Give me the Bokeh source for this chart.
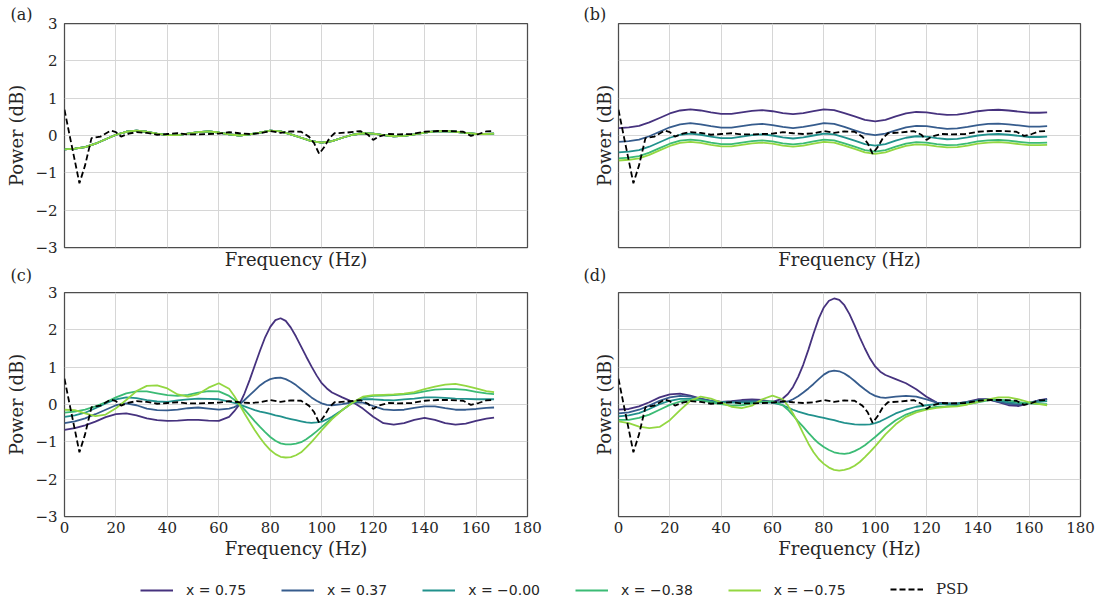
from bokeh.plotting import figure
from bokeh.models import Range1d, FixedTicker, Title, Legend, LegendItem
from bokeh.layouts import column, row
from bokeh.embed import file_html
from bokeh.resources import INLINE

# ---------------- data ----------------
# frequency samples for panels (a) and (b)
freq = [0, 4, 8, 12, 16, 20, 24, 28, 32, 36, 40, 44, 48, 52, 56, 60, 64, 68, 72, 76,
        80, 84, 88, 92, 96, 100, 104, 108, 112, 116, 120, 124, 128, 132, 136, 140,
        144, 148, 152, 156, 160, 164, 167]
# frequency samples for panels (c) and (d) (denser around the resonance)
freq_cd = [0, 4, 8, 12, 16, 20, 24, 28, 32, 36, 40, 44, 48, 52, 56, 60,
           64, 66, 68, 70, 72, 74, 76, 78, 80, 82, 84, 86, 88, 90, 92, 94, 96, 98, 100, 102, 104,
           108, 112, 116, 120, 124, 128, 132, 136, 140, 144, 148, 152, 156, 160, 164, 167]

series_labels = ["x = 0.75", "x = 0.37", "x = \u22120.00", "x = \u22120.38", "x = \u22120.75"]
series_colors = ["#46327e", "#365c8d", "#21918c", "#3bbb75", "#93d741"]

# panel (a): all five curves coincide
a_all = [-0.37, -0.35, -0.31, -0.22, -0.10, 0.02, 0.10, 0.13, 0.10, 0.05, 0.01, 0.01, 0.05,
         0.09, 0.11, 0.08, 0.03, 0.00, 0.03, 0.08, 0.13, 0.11, 0.03, -0.06, -0.15, -0.19,
         -0.15, -0.06, 0.02, 0.06, 0.05, 0.01, -0.02, -0.01, 0.03, 0.08, 0.11, 0.12, 0.10,
         0.07, 0.04, 0.04, 0.05]

# panel (b)
b_075 = [0.20, 0.22, 0.26, 0.35, 0.47, 0.59, 0.67, 0.70, 0.67, 0.62, 0.58, 0.58, 0.62, 0.66,
         0.68, 0.65, 0.60, 0.57, 0.60, 0.65, 0.70, 0.68, 0.60, 0.51, 0.42, 0.38, 0.42, 0.51,
         0.59, 0.63, 0.62, 0.58, 0.55, 0.56, 0.60, 0.65, 0.68, 0.69, 0.67, 0.64, 0.61, 0.61, 0.62]
b_037 = [-0.17, -0.15, -0.11, -0.02, 0.10, 0.22, 0.30, 0.33, 0.30, 0.25, 0.21, 0.21, 0.25, 0.29,
         0.31, 0.28, 0.23, 0.20, 0.23, 0.28, 0.33, 0.31, 0.23, 0.14, 0.05, 0.01, 0.05, 0.14,
         0.22, 0.26, 0.25, 0.21, 0.18, 0.19, 0.23, 0.28, 0.31, 0.32, 0.30, 0.27, 0.24, 0.24, 0.25]
b_000 = [-0.45, -0.43, -0.39, -0.30, -0.18, -0.06, 0.02, 0.05, 0.02, -0.03, -0.07, -0.07, -0.03,
         0.01, 0.03, 0.00, -0.05, -0.08, -0.05, 0.00, 0.05, 0.03, -0.05, -0.14, -0.23, -0.27,
         -0.23, -0.14, -0.06, -0.02, -0.03, -0.07, -0.10, -0.09, -0.05, 0.00, 0.03, 0.04, 0.02,
         -0.01, -0.04, -0.04, -0.03]
b_m038 = [-0.61, -0.59, -0.55, -0.46, -0.34, -0.22, -0.14, -0.11, -0.14, -0.19, -0.23, -0.23,
          -0.19, -0.15, -0.13, -0.16, -0.21, -0.24, -0.21, -0.16, -0.11, -0.13, -0.21, -0.30,
          -0.39, -0.43, -0.39, -0.30, -0.22, -0.18, -0.19, -0.23, -0.26, -0.25, -0.21, -0.16,
          -0.13, -0.12, -0.14, -0.17, -0.20, -0.20, -0.19]
b_m075 = [-0.67, -0.65, -0.61, -0.52, -0.40, -0.28, -0.20, -0.17, -0.20, -0.25, -0.29, -0.29,
          -0.25, -0.21, -0.19, -0.22, -0.27, -0.30, -0.27, -0.22, -0.17, -0.19, -0.27, -0.36,
          -0.45, -0.49, -0.45, -0.36, -0.28, -0.24, -0.25, -0.29, -0.32, -0.31, -0.27, -0.22,
          -0.19, -0.18, -0.20, -0.23, -0.26, -0.26, -0.25]

# panel (c)
c_075 = [-0.68, -0.63, -0.56, -0.46, -0.34, -0.26, -0.24, -0.29, -0.37, -0.42, -0.44, -0.43,
         -0.41, -0.41, -0.43, -0.44,
         -0.33, -0.18, 0.00, 0.30, 0.66, 1.05, 1.44, 1.80, 2.08, 2.26, 2.31, 2.24, 2.06, 1.82,
         1.55, 1.28, 1.02, 0.78, 0.57, 0.43, 0.32,
         0.19, 0.07, -0.11, -0.33, -0.50, -0.54, -0.50, -0.41, -0.36, -0.41, -0.50, -0.54,
         -0.51, -0.44, -0.38, -0.35]
c_037 = [-0.50, -0.45, -0.37, -0.26, -0.14, -0.02, 0.03, -0.02, -0.11, -0.15, -0.16, -0.14,
         -0.10, -0.08, -0.11, -0.14,
         -0.11, -0.07, 0.00, 0.12, 0.25, 0.38, 0.51, 0.61, 0.68, 0.71, 0.72, 0.68, 0.61, 0.52,
         0.41, 0.30, 0.19, 0.10, 0.03, -0.01, -0.02,
         0.01, 0.06, 0.05, -0.04, -0.13, -0.15, -0.14, -0.09, -0.05, -0.05, -0.10, -0.14, -0.14,
         -0.12, -0.09, -0.08]
c_000 = [-0.33, -0.29, -0.22, -0.10, 0.03, 0.14, 0.19, 0.17, 0.12, 0.08, 0.07, 0.11, 0.14,
         0.16, 0.15, 0.14,
         0.08, 0.04, 0.00, -0.05, -0.10, -0.15, -0.19, -0.22, -0.25, -0.29, -0.32, -0.36, -0.39,
         -0.42, -0.45, -0.48, -0.49, -0.48, -0.46, -0.40, -0.33,
         -0.15, 0.05, 0.14, 0.14, 0.12, 0.11, 0.14, 0.16, 0.19, 0.19, 0.18, 0.16, 0.15, 0.14,
         0.14, 0.14]
c_m038 = [-0.22, -0.19, -0.14, -0.05, 0.06, 0.19, 0.30, 0.35, 0.35, 0.30, 0.25, 0.23, 0.26,
          0.32, 0.36, 0.35,
          0.23, 0.13, 0.00, -0.14, -0.29, -0.45, -0.60, -0.74, -0.87, -0.97, -1.04, -1.07,
          -1.07, -1.05, -1.01, -0.93, -0.83, -0.72, -0.60, -0.48, -0.37,
          -0.15, 0.05, 0.19, 0.23, 0.24, 0.25, 0.27, 0.30, 0.35, 0.40, 0.41, 0.41, 0.39, 0.34,
          0.30, 0.28]
c_m075 = [-0.14, -0.15, -0.24, -0.31, -0.27, -0.10, 0.12, 0.36, 0.50, 0.51, 0.43, 0.27, 0.21,
          0.28, 0.45, 0.57,
          0.42, 0.23, 0.00, -0.24, -0.47, -0.69, -0.89, -1.07, -1.22, -1.33, -1.40, -1.42,
          -1.41, -1.36, -1.28, -1.15, -1.01, -0.85, -0.69, -0.54, -0.39,
          -0.15, 0.05, 0.21, 0.25, 0.26, 0.27, 0.29, 0.33, 0.41, 0.48, 0.53, 0.55, 0.50, 0.43,
          0.36, 0.33]

# panel (d)
d_075 = [-0.14, -0.12, -0.05, 0.06, 0.19, 0.27, 0.29, 0.24, 0.16, 0.10, 0.07, 0.09, 0.12,
         0.14, 0.12, 0.07,
         0.16, 0.28, 0.47, 0.74, 1.07, 1.47, 1.90, 2.30, 2.60, 2.78, 2.84, 2.80, 2.66, 2.42,
         2.12, 1.80, 1.50, 1.23, 1.02, 0.88, 0.79,
         0.68, 0.57, 0.41, 0.21, 0.05, 0.03, 0.03, 0.08, 0.14, 0.14, 0.06, -0.02, -0.04, 0.03,
         0.12, 0.15]
d_037 = [-0.24, -0.21, -0.14, -0.03, 0.10, 0.19, 0.23, 0.21, 0.15, 0.10, 0.07, 0.07, 0.09,
         0.10, 0.09, 0.06,
         0.06, 0.08, 0.14, 0.22, 0.32, 0.43, 0.55, 0.68, 0.80, 0.88, 0.91, 0.89, 0.83, 0.74,
         0.63, 0.51, 0.40, 0.30, 0.23, 0.19, 0.18,
         0.21, 0.23, 0.21, 0.14, 0.05, 0.00, 0.01, 0.05, 0.12, 0.14, 0.08, 0.02, 0.00, 0.05,
         0.11, 0.14]
d_000 = [-0.32, -0.29, -0.23, -0.12, 0.01, 0.10, 0.15, 0.15, 0.12, 0.08, 0.06, 0.05, 0.05,
         0.06, 0.06, 0.05,
         -0.02, -0.08, -0.14, -0.19, -0.23, -0.27, -0.30, -0.33, -0.36, -0.39, -0.42, -0.46,
         -0.49, -0.51, -0.53, -0.54, -0.54, -0.53, -0.50, -0.45, -0.38,
         -0.24, -0.14, -0.06, -0.02, 0.01, 0.02, 0.03, 0.06, 0.10, 0.13, 0.11, 0.06, 0.04, 0.05,
         0.07, 0.09]
d_m038 = [-0.41, -0.41, -0.36, -0.27, -0.14, -0.01, 0.08, 0.12, 0.12, 0.06, 0.01, -0.03, -0.02,
          0.03, 0.07, 0.09,
          -0.02, -0.14, -0.29, -0.45, -0.60, -0.76, -0.91, -1.04, -1.14, -1.22, -1.28, -1.31,
          -1.32, -1.30, -1.25, -1.18, -1.09, -0.98, -0.87, -0.75, -0.63,
          -0.42, -0.27, -0.17, -0.11, -0.06, -0.05, -0.03, 0.01, 0.06, 0.11, 0.13, 0.11, 0.06,
          0.03, 0.01, 0.01]
d_m075 = [-0.45, -0.50, -0.59, -0.63, -0.60, -0.42, -0.15, 0.10, 0.21, 0.16, 0.05, -0.06, -0.10,
          -0.03, 0.14, 0.24,
          0.14, -0.03, -0.24, -0.50, -0.78, -1.05, -1.28, -1.46, -1.59, -1.69, -1.75, -1.77,
          -1.75, -1.71, -1.64, -1.54, -1.41, -1.27, -1.12, -0.96, -0.80,
          -0.53, -0.33, -0.21, -0.14, -0.09, -0.06, -0.05, 0.00, 0.07, 0.14, 0.19, 0.19, 0.14,
          0.06, 0.01, -0.02]

# measured power spectral density (dashed, same in every panel)
psd_freq = [0, 2, 4, 5.8, 8, 10.5, 14, 18, 20, 22, 25, 28, 32, 36, 40, 44, 48, 52, 56, 60, 64,
            68, 72, 76, 80, 84, 88, 92, 95, 97, 99, 101, 103, 105, 110, 115, 118, 120, 122, 126,
            130, 135, 140, 145, 150, 155, 158, 161, 164, 167]
psd = [0.69, 0.0, -0.67, -1.28, -0.80, -0.07, -0.03, 0.13, 0.09, -0.03, 0.05, 0.09, 0.07, 0.02,
       0.04, 0.06, 0.03, 0.03, 0.04, 0.05, 0.09, 0.06, 0.04, 0.06, 0.12, 0.07, 0.11, 0.10, -0.03,
       -0.20, -0.49, -0.31, -0.07, 0.06, 0.08, 0.12, 0.02, -0.12, -0.03, 0.04, 0.03, 0.04, 0.10,
       0.12, 0.12, 0.10, -0.01, 0.04, 0.11, 0.12]

x_ticks = [0, 20, 40, 60, 80, 100, 120, 140, 160, 180]
y_ticks = [-3, -2, -1, 0, 1, 2, 3]
y_tick_text = {-3: "\u22123", -2: "\u22122", -1: "\u22121", 0: "0", 1: "1", 2: "2", 3: "3"}
panel_tags = ["(a)", "(b)", "(c)", "(d)"]
x_title = "Frequency (Hz)"
y_title = "Power (dB)"

SERIF = "DejaVu Serif"
TXT = "#262626"
LW = 1.8


def panel(width, height, bl, br, bt, bb, show_x, show_y, tag, tag_offset, tag_standoff,
          xs, curves):
    p = figure(width=width, height=height, x_range=Range1d(0, 180), y_range=Range1d(-3, 3),
               output_backend="svg", toolbar_location=None,
               min_border_left=bl, min_border_right=br, min_border_top=bt, min_border_bottom=bb)
    p.outline_line_color = "#4d4d4d"
    p.outline_line_width = 1.25
    p.border_fill_alpha = 0
    p.xaxis.ticker = FixedTicker(ticks=x_ticks if show_x else [])
    p.yaxis.ticker = FixedTicker(ticks=y_ticks if show_y else [])
    p.xgrid.ticker = FixedTicker(ticks=x_ticks)
    p.ygrid.ticker = FixedTicker(ticks=y_ticks)
    if show_y:
        p.yaxis.major_label_overrides = y_tick_text
    p.grid.grid_line_color = "#d6d6d6"
    p.grid.grid_line_width = 1
    for ax in (p.xaxis[0], p.yaxis[0]):
        ax.axis_line_color = None
        ax.major_tick_line_color = None
        ax.minor_tick_line_color = None
        ax.major_tick_out = 0
        ax.major_tick_in = 0
        ax.major_label_text_font = SERIF
        ax.major_label_text_font_size = "15px"
        ax.major_label_text_color = TXT
        ax.axis_label_text_font = SERIF
        ax.axis_label_text_font_size = "18px"
        ax.axis_label_text_font_style = "normal"
        ax.axis_label_text_color = TXT
    p.xaxis.axis_label = x_title
    p.yaxis.axis_label = y_title
    if show_x:
        p.xaxis.major_label_standoff = 5
        p.xaxis.axis_label_standoff = 2
    else:
        p.xaxis.major_label_standoff = 0
        p.xaxis.axis_label_standoff = 1
    if show_y:
        p.yaxis.major_label_standoff = 7
        p.yaxis.axis_label_standoff = 5
    else:
        p.yaxis.major_label_standoff = 0
        p.yaxis.axis_label_standoff = 4
    p.title = Title(text=tag, align="left", offset=tag_offset, standoff=tag_standoff,
                    text_font=SERIF, text_font_size="16px", text_font_style="normal",
                    text_color=TXT)
    for ys, col in zip(curves, series_colors):
        p.line(xs, ys, line_color=col, line_width=LW)
    p.line(psd_freq, psd, line_color="black", line_width=LW, line_dash="6 3")
    return p


TOP_H = 273
BOT_TOP = 38
OVERLAP = 19
BOT_H = 566 - (TOP_H - OVERLAP)
fa = panel(560, TOP_H, 64, 33, 23, 26, False, True, panel_tags[0], -54, 0, freq,
           [a_all, a_all, a_all, a_all, a_all])
fb = panel(540, TOP_H, 58, 20, 23, 26, False, False, panel_tags[1], -35, 0, freq,
           [b_075, b_037, b_000, b_m038, b_m075])
fc = panel(560, BOT_H, 64, 33, BOT_TOP, 50, True, True, panel_tags[2], -54, 15, freq_cd,
           [c_075, c_037, c_000, c_m038, c_m075])
fd = panel(540, BOT_H, 58, 20, BOT_TOP, 50, True, False, panel_tags[3], -35, 15, freq_cd,
           [d_075, d_037, d_000, d_m038, d_m075])

# legend strip
fl = figure(width=1100, height=38, x_range=Range1d(0, 1), y_range=Range1d(0, 1),
            output_backend="svg", toolbar_location=None, min_border=0,
            x_axis_type=None, y_axis_type=None)
fl.outline_line_color = None
items = []
for lab, col in zip(series_labels, series_colors):
    r = fl.line([5, 6], [5, 6], line_color=col, line_width=LW)
    items.append(LegendItem(label=lab, renderers=[r]))
r_psd = fl.line([5, 6], [5, 6], line_color="black", line_width=LW, line_dash="6 3")

common = dict(orientation="horizontal", glyph_width=33, glyph_height=16, label_height=16,
              label_standoff=13, spacing=35, padding=0, margin=0, border_line_color=None,
              background_fill_alpha=0, label_text_color=TXT)
leg1 = Legend(items=items, location=(140, 6), label_text_font="DejaVu Sans",
              label_text_font_size="14px", **common)
leg2 = Legend(items=[LegendItem(label="PSD", renderers=[r_psd])], location=(890, 6),
              label_text_font=SERIF, label_text_font_size="15px", **common)
fl.add_layout(leg1)
fl.add_layout(leg2)

top_row = row(fa, fb)
bottom_row = row(fc, fd, margin=(-OVERLAP, 0, 0, 0))
layout = column(top_row, bottom_row, fl)
open("out.html", "w").write(file_html(layout, INLINE))
